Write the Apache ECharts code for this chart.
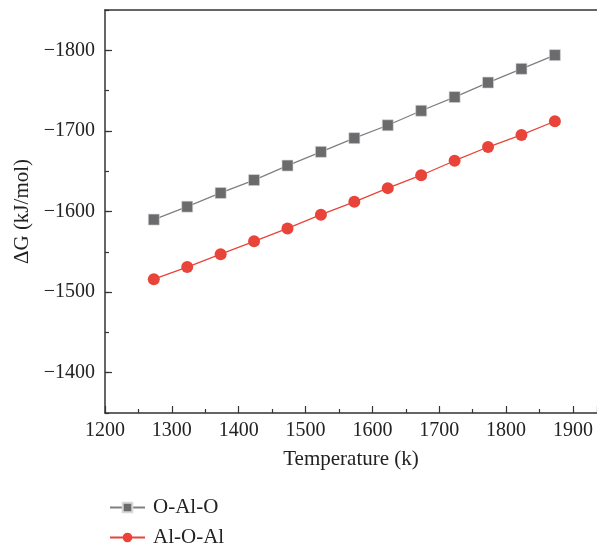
<!DOCTYPE html>
<html><head><meta charset="utf-8">
<script src="https://cdn.jsdelivr.net/npm/echarts@6/dist/echarts.min.js"></script>
<style>html,body{margin:0;padding:0;background:#fff}#c{width:597px;height:543px}</style>
</head><body><div id="c"></div>
<script>
const temperatures = [1273,1323,1373,1423,1473,1523,1573,1623,1673,1723,1773,1823,1873];
const oAlO = [-1590,-1606,-1623,-1639,-1657,-1674,-1691,-1707,-1725,-1742,-1760,-1777,-1794];
const alOAl = [-1516,-1531,-1547,-1563,-1579,-1596,-1612,-1629,-1645,-1663,-1680,-1695,-1712];
const seriesNames = ['O-Al-O','Al-O-Al'];
const yTickValues = [-1800,-1700,-1600,-1500,-1400];

const font = 'Liberation Serif';
const chart = echarts.init(document.getElementById('c'));
const pair = (xs, ys) => xs.map((x,i)=>[x, ys[i]]);
const legendBase = {orient:'vertical', left:104, itemWidth:35, itemHeight:12,
  textStyle:{fontSize:21, color:'#222', fontFamily:font, padding:[0,0,0,3]}};
chart.setOption({
  animation:false,
  textStyle:{fontFamily:font},
  grid:[
    {left:105, top:10, right:0, height:403},
    {left:105, top:50.3, right:0, height:322.4}
  ],
  xAxis:[
    {gridIndex:0, type:'value', min:1200, max:1936, interval:100,
     name:'Temperature (k)', nameLocation:'middle', nameGap:36,
     nameTextStyle:{fontSize:21, color:'#222', fontFamily:font},
     axisLine:{lineStyle:{color:'#333', width:1.5}},
     axisTick:{inside:true, length:7, lineStyle:{color:'#333', width:1.2}},
     minorTick:{show:true, splitNumber:2, length:4, lineStyle:{color:'#333', width:1.2}},
     axisLabel:{fontSize:20, color:'#222', margin:8, fontFamily:font, showMaxLabel:false,
       formatter:v=>String(v)},
     splitLine:{show:false}},
    {gridIndex:0, type:'value', position:'top', min:1200, max:1936,
     axisLine:{show:true, onZero:false, lineStyle:{color:'#333', width:1.5}},
     axisTick:{show:false}, axisLabel:{show:false}, splitLine:{show:false}},
    {gridIndex:1, type:'value', min:1200, max:1936, show:false}
  ],
  yAxis:[
    {gridIndex:0, type:'value', inverse:true, min:-1850, max:-1350, interval:50,
     name:'\u0394G (kJ/mol)', nameLocation:'middle', nameGap:72,
     nameTextStyle:{fontSize:21, color:'#222', fontFamily:font},
     axisLine:{lineStyle:{color:'#333', width:1.5}},
     axisTick:{inside:true, length:4, lineStyle:{color:'#333', width:1.2}},
     axisLabel:{show:false},
     splitLine:{show:false}},
    {gridIndex:1, type:'value', inverse:true, min:yTickValues[0], max:yTickValues[yTickValues.length-1], interval:100,
     axisLine:{show:false},
     axisTick:{inside:true, length:7, lineStyle:{color:'#333', width:1.2}},
     axisLabel:{fontSize:20, color:'#222', margin:10, fontFamily:font,
       formatter:v=>String(v).replace('-','\u2212')},
     splitLine:{show:false}}
  ],
  legend:[
    Object.assign({top:492, data:[seriesNames[0]]}, legendBase),
    Object.assign({top:522, data:[seriesNames[1]]}, legendBase)
  ],
  series:[
    {name:seriesNames[0], type:'line', xAxisIndex:0, yAxisIndex:0, data:pair(temperatures,oAlO),
     symbol:'rect', symbolSize:11,
     lineStyle:{color:'#808080', width:1.3},
     itemStyle:{color:'#6b6b6e', borderColor:'#d8d8d8', borderWidth:0.6}},
    {name:seriesNames[1], type:'line', xAxisIndex:0, yAxisIndex:0, data:pair(temperatures,alOAl),
     symbol:'circle', symbolSize:12,
     lineStyle:{color:'#e8443a', width:1.3},
     itemStyle:{color:'#e8443a'}}
  ]
});
</script></body></html>
